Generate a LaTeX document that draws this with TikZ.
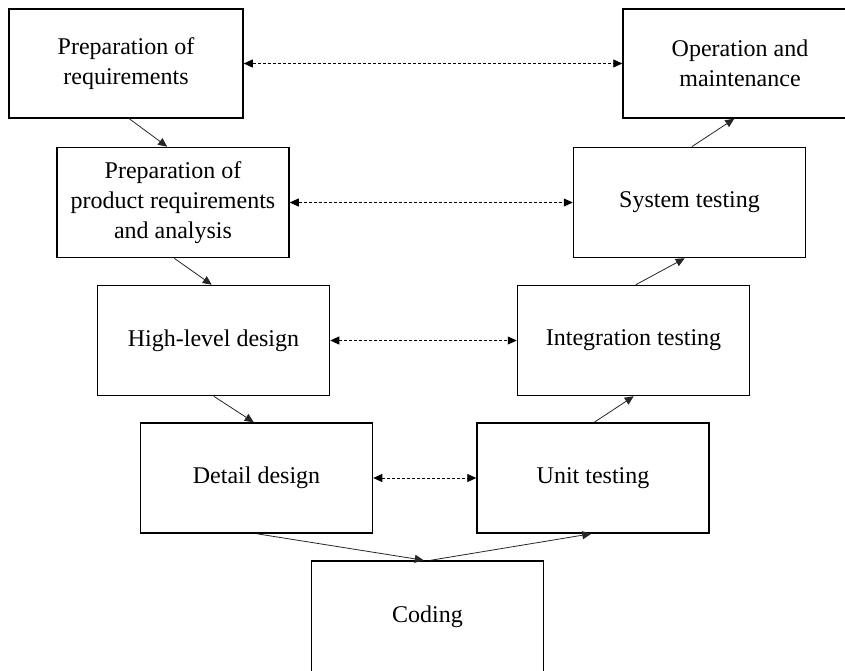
\documentclass[tikz,border=0pt]{standalone}
\usepackage{fontspec}
\setmainfont{Liberation Serif}
\usetikzlibrary{arrows.meta}
\begin{document}
\begin{tikzpicture}[x=1pt,y=-1pt,
  box/.style={draw=black, line width=1.5pt, minimum width=232pt, minimum height=110pt,
    align=center, inner sep=2pt, font=\fontsize{24pt}{30pt}\selectfont},
  flow/.style={line width=0.8pt, draw=black!85, -{Triangle[length=9pt,width=8pt]}},
  link/.style={line width=0.8pt, dash pattern=on 3pt off 2pt,
    {Triangle[length=9pt,width=8pt]}-{Triangle[length=9pt,width=8pt]}}]
\useasboundingbox (0,0) rectangle (845,671);
\begin{scope}
\clip (0,0) rectangle (845,671);
\node[box, minimum width=234pt, minimum height=109pt] (pr) at (126,63.5) {Preparation of\\requirements};
\node[box, minimum width=234pt, minimum height=109pt] (om) at (740,63.5) {Operation and\\maintenance};
\node[box] (ppr) at (173,202.5) {Preparation of\\product requirements\\and analysis};
\node[box] (st) at (689.5,202.5) {System testing};
\node[box] (hld) at (213.5,340.5) {High-level design};
\node[box] (it) at (633.5,340.5) {Integration testing};
\node[box] (dd) at (256.5,478) {Detail design};
\node[box] (ut) at (593,478) {Unit testing};
\node[box, minimum height=112pt] (cod) at (427.5,617) {Coding};

\draw[flow] ([xshift=121pt]pr.south west) -- ([xshift=111pt]ppr.north west);
\draw[flow] ([xshift=118pt]ppr.south west) -- ([xshift=115pt]hld.north west);
\draw[flow] ([xshift=117pt]hld.south west) -- ([xshift=114pt]dd.north west);
\draw[flow] ([xshift=117pt]dd.south west) -- ([xshift=113pt]cod.north west);
\draw[flow] ([xshift=120pt]cod.north west) -- ([xshift=115pt]ut.south west);
\draw[flow] ([xshift=118pt]ut.north west) -- ([xshift=117pt]it.south west);
\draw[flow] ([xshift=119pt]it.north west) -- ([xshift=112pt]st.south west);
\draw[flow] ([xshift=119pt]st.north west) -- ([xshift=112pt]om.south west);

\draw[link] (pr.east) -- (om.west);
\draw[link] (ppr.east) -- (st.west);
\draw[link] (hld.east) -- (it.west);
\draw[link] (dd.east) -- (ut.west);
\end{scope}
\end{tikzpicture}
\end{document}
